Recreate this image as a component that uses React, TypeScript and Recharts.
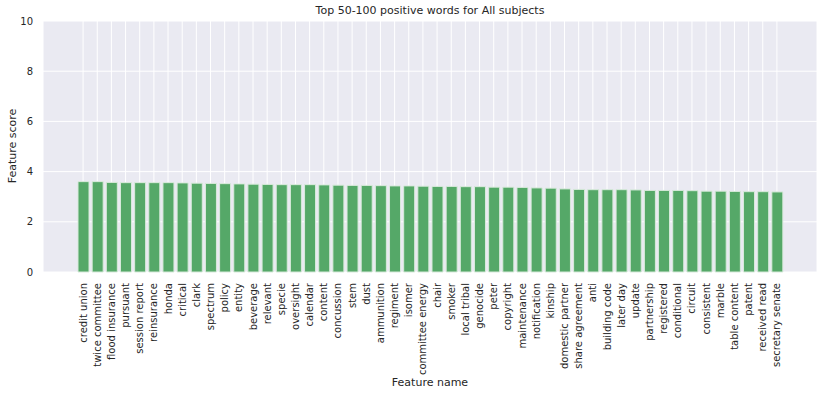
import React from 'react';
import { BarChart, Bar, XAxis, YAxis, CartesianGrid } from 'recharts';

const words: string[] = [
  'credit union', 'twice committee', 'flood insurance', 'pursuant', 'session report',
  'reinsurance', 'honda', 'critical', 'clark', 'spectrum',
  'policy', 'entity', 'beverage', 'relevant', 'specie',
  'oversight', 'calendar', 'content', 'concussion', 'stem',
  'dust', 'ammunition', 'regiment', 'isomer', 'committee energy',
  'chair', 'smoker', 'local tribal', 'genocide', 'peter',
  'copyright', 'maintenance', 'notification', 'kinship', 'domestic partner',
  'share agreement', 'anti', 'building code', 'later day', 'update',
  'partnership', 'registered', 'conditional', 'circuit', 'consistent',
  'marble', 'table content', 'patent', 'received read', 'secretary senate',
];

const scores: number[] = [
  3.6, 3.6, 3.57, 3.56, 3.56, 3.56, 3.56, 3.55, 3.54, 3.53,
  3.52, 3.51, 3.5, 3.49, 3.48, 3.48, 3.48, 3.47, 3.46, 3.45,
  3.45, 3.44, 3.43, 3.43, 3.42, 3.41, 3.41, 3.4, 3.4, 3.38,
  3.38, 3.37, 3.35, 3.34, 3.31, 3.29, 3.28, 3.28, 3.28, 3.27,
  3.25, 3.25, 3.25, 3.24, 3.22, 3.22, 3.21, 3.2, 3.2, 3.19,
];

const yTicks = [0, 2, 4, 6, 8, 10];

const data = words.map((w, i) => ({ word: w, score: scores[i] }));

const font = '"DejaVu Sans", sans-serif';
const textColor = '#262626';

const WordTick: React.FC<any> = ({ x, y, payload }) => {
  return (
    <text
      x={x}
      y={y + 9}
      transform={`rotate(-90, ${x}, ${y + 9})`}
      textAnchor="end"
      dominantBaseline="central"
      fontSize={10}
      fontFamily={font}
      fill={textColor}
    >
      {payload.value}
    </text>
  );
};

export default function App() {
  return (
    <div style={{ position: 'absolute', left: 0, top: 0, width: 830, height: 396, background: '#fff', fontFamily: font }}>
      <div style={{ position: 'absolute', left: 43, width: 774, top: 4, lineHeight: '13px', textAlign: 'center', fontSize: 11, color: textColor }}>
        Top 50-100 positive words for All subjects
      </div>
      <div style={{ position: 'absolute', left: 43, width: 774, top: 376, lineHeight: '13px', textAlign: 'center', fontSize: 11, color: textColor }}>
        Feature name
      </div>
      <div
        style={{
          position: 'absolute', left: 12, top: 146, fontSize: 11, lineHeight: '13px', color: textColor, whiteSpace: 'nowrap',
          transform: 'translate(-50%, -50%) rotate(-90deg)',
        }}
      >
        Feature score
      </div>
      <BarChart
        width={830}
        height={396}
        data={data}
        margin={{ top: 21, right: 13, left: 0, bottom: 0 }}
        barCategoryGap={0}
      >
        <CartesianGrid fill="#EAEAF2" stroke="#ffffff" strokeWidth={1} />
        <XAxis
          dataKey="word"
          interval={0}
          height={124}
          tick={<WordTick />}
          tickLine={false}
          axisLine={false}
          tickSize={0}
          padding={{ left: 33, right: 33 }}
        />
        <YAxis
          type="number"
          domain={[0, 10]}
          ticks={yTicks}
          width={43}
          tickLine={false}
          axisLine={false}
          tickSize={0}
          tickMargin={10}
          tick={{ fontSize: 10, fill: textColor, fontFamily: font }}
        />
        <Bar dataKey="score" fill="#55A868" stroke="#d8eadb" strokeWidth={1} barSize={11} isAnimationActive={false} />
      </BarChart>
    </div>
  );
}
